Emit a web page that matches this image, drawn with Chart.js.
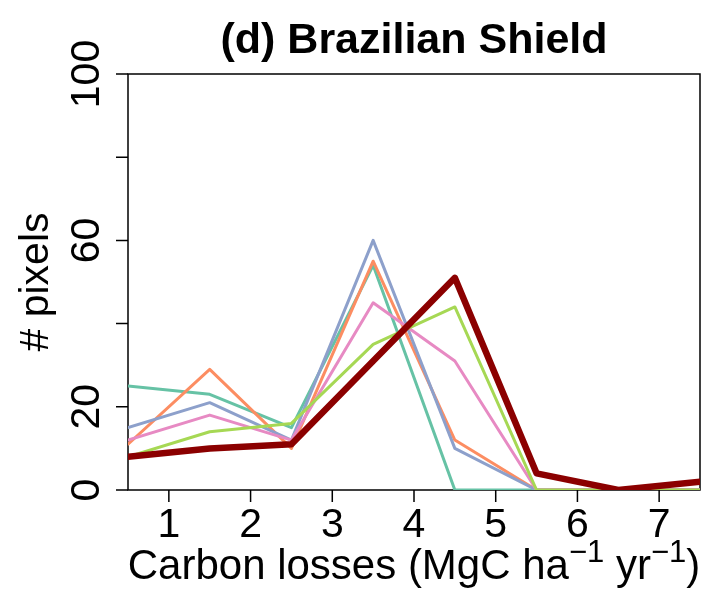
<!DOCTYPE html>
<html>
<head>
<meta charset="utf-8">
<script src="https://cdn.jsdelivr.net/npm/chart.js@4.4.0/dist/chart.umd.min.js"></script>
<style>
  html, body { margin: 0; padding: 0; background: #fff; }
  canvas { display: block; }
</style>
</head>
<body>
<canvas id="lossChart" width="707" height="595"></canvas>
<script>
// --- Data: pixel counts per carbon-loss class ---
const classMid = [0.5, 1.5, 2.5, 3.5, 4.5, 5.5, 6.5, 7.5];
const xTicks = [1, 2, 3, 4, 5, 6, 7];
const yTicks = [0, 20, 40, 60, 80, 100];
const yTickLabels = ['0', '20', '', '60', '', '100'];

const seriesTeal   = [25, 23, 15, 54, 0, 0, 0, 0];
const seriesOrange = [11, 29, 10, 55, 12, 0, 0, 0];
const seriesBlue   = [15, 21, 12, 60, 10, 0, 0, 0];
const seriesPink   = [12, 18, 12, 45, 31, 0, 0, 0];
const seriesGreen  = [8, 14, 16, 35, 44, 0, 0, 0];
const seriesMain   = [8, 10, 11, 31, 51, 4, 0, 2];

const lineColors = ['#66C2A5', '#FC8D62', '#8DA0CB', '#E78AC3', '#A6D854', '#8B0000'];
const lineWidths = [3, 3, 3, 3, 3, 6.5];
const allSeries = [seriesTeal, seriesOrange, seriesBlue, seriesPink, seriesGreen, seriesMain];

const FONT = '"Liberation Sans", Arial, Helvetica, sans-serif';

function toPoints(values) {
  return values.map((v, i) => ({ x: classMid[i], y: v }));
}

// axes, box and text drawn R-style around the plot region
const rAxes = {
  id: 'rAxes',
  beforeDatasetsDraw(chart) {
    const { ctx, chartArea: a, scales: { x, y } } = chart;
    ctx.save();
    ctx.strokeStyle = '#000';
    ctx.lineWidth = 1.5;
    ctx.strokeRect(a.left, a.top, a.right - a.left, a.bottom - a.top);
    ctx.beginPath();
    xTicks.forEach(t => {
      const px = x.getPixelForValue(t);
      ctx.moveTo(px, a.bottom);
      ctx.lineTo(px, a.bottom + 12);
    });
    yTicks.forEach(t => {
      const py = y.getPixelForValue(t);
      ctx.moveTo(a.left, py);
      ctx.lineTo(a.left - 12, py);
    });
    ctx.stroke();
    ctx.restore();
  },
  afterDraw(chart) {
    const { ctx, chartArea: a, scales: { x, y } } = chart;
    const midX = (a.left + a.right) / 2;
    const midY = (a.top + a.bottom) / 2;
    ctx.save();
    ctx.fillStyle = '#000';

    // title
    ctx.font = 'bold 43px ' + FONT;
    ctx.textAlign = 'center';
    ctx.textBaseline = 'alphabetic';
    ctx.fillText('(d) Brazilian Shield', midX, 53);

    // x tick labels
    ctx.font = '41px ' + FONT;
    xTicks.forEach(t => ctx.fillText(String(t), x.getPixelForValue(t), 537));

    // y tick labels, rotated
    yTicks.forEach((t, i) => {
      if (!yTickLabels[i]) return;
      ctx.save();
      ctx.translate(99, y.getPixelForValue(t));
      ctx.rotate(-Math.PI / 2);
      ctx.fillText(yTickLabels[i], 0, 0);
      ctx.restore();
    });

    // y axis title
    ctx.save();
    ctx.font = '41px ' + FONT;
    ctx.translate(48, midY);
    ctx.rotate(-Math.PI / 2);
    ctx.fillText('# pixels', 0, 0);
    ctx.restore();

    // x axis title with superscripts
    const base = '42px ' + FONT;
    const sup = '31px ' + FONT;
    const parts = [
      { t: 'Carbon losses (MgC ha', f: base, dy: 0 },
      { t: '\u22121', f: sup, dy: -17 },
      { t: ' yr', f: base, dy: 0 },
      { t: '\u22121', f: sup, dy: -17 },
      { t: ')', f: base, dy: 0 }
    ];
    let total = 0;
    parts.forEach(p => { ctx.font = p.f; p.w = ctx.measureText(p.t).width; total += p.w; });
    let cx = midX - total / 2;
    ctx.textAlign = 'left';
    parts.forEach(p => {
      ctx.font = p.f;
      ctx.fillText(p.t, cx, 579 + p.dy);
      cx += p.w;
    });
    ctx.restore();
  }
};

const datasets = allSeries.map((s, i) => ({
  data: toPoints(s),
  borderColor: lineColors[i],
  borderWidth: lineWidths[i],
  order: allSeries.length - i,
  clip: 0
}));

new Chart(document.getElementById('lossChart'), {
  type: 'line',
  data: { datasets },
  options: {
    responsive: false,
    animation: false,
    devicePixelRatio: 1,
    layout: { padding: { left: 128, right: 7, top: 74, bottom: 105 } },
    elements: {
      point: { radius: 0, hoverRadius: 0 },
      line: { tension: 0, borderJoinStyle: 'round', borderCapStyle: 'round', fill: false }
    },
    plugins: { legend: { display: false }, tooltip: { enabled: false }, title: { display: false } },
    scales: {
      x: { type: 'linear', min: 0.5, max: 7.5, display: false },
      y: { type: 'linear', min: 0, max: 100, display: false }
    }
  },
  plugins: [rAxes]
});
</script>
</body>
</html>
